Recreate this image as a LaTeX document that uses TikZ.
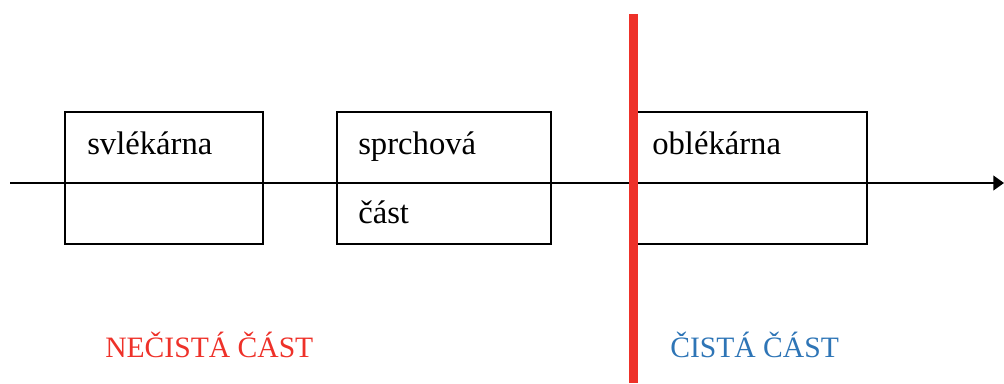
\documentclass[tikz,border=0pt]{standalone}
\usepackage{fontspec}
\setmainfont{Liberation Serif}
\usetikzlibrary{arrows.meta}

\definecolor{cistred}{HTML}{EE3129}
\definecolor{cistblue}{HTML}{2E75B6}

\begin{document}
\begin{tikzpicture}[
      x=0.75pt, y=-0.75pt,
      room/.style={rectangle, draw, line width=1.5pt, inner sep=0pt},
      label/.style={inner sep=0pt, anchor=base west, font=\fontsize{24.5}{29}\selectfont},
      part/.style={label, font=\fontsize{22.2}{27}\selectfont},
      flow/.style={line width=1.5pt, -{Triangle[length=8pt, width=11pt]}},
      wall/.style={cistred, line width=6.4pt},
    ]
    \useasboundingbox (0,0) rectangle (1004,383);
    % rooms
    \node[room, minimum width=198*0.75pt, minimum height=132*0.75pt] (svl) at (164,178) {};
    \node[room, minimum width=214*0.75pt, minimum height=132*0.75pt] (sprch) at (444,178) {};
    \node[room, minimum width=230*0.75pt, minimum height=132*0.75pt] (obl) at (752,178) {};
    % flow through
    \coordinate (in) at (10,183);
    \coordinate (out) at (1004,183);
    \draw[flow] (in) -- (out);
    % wall between
    \coordinate (walltop) at (633.5,14);
    \coordinate (wallbot) at (633.5,383);
    \draw[wall] (walltop) -- (wallbot);
    % texts
    \node[label] (svltext) at (87,154) {svlékárna};
    \node[label] (sprchtext) at (358,154) {sprchová};
    \node[label] (casttext) at (358,223) {část};
    \node[label] (obltext) at (652,154) {oblékárna};
    \node[part, text=cistred] (necista) at (105,357) {NEČISTÁ ČÁST};
    \node[part, text=cistblue] (cista) at (670,357) {ČISTÁ ČÁST};
\end{tikzpicture}
\end{document}
